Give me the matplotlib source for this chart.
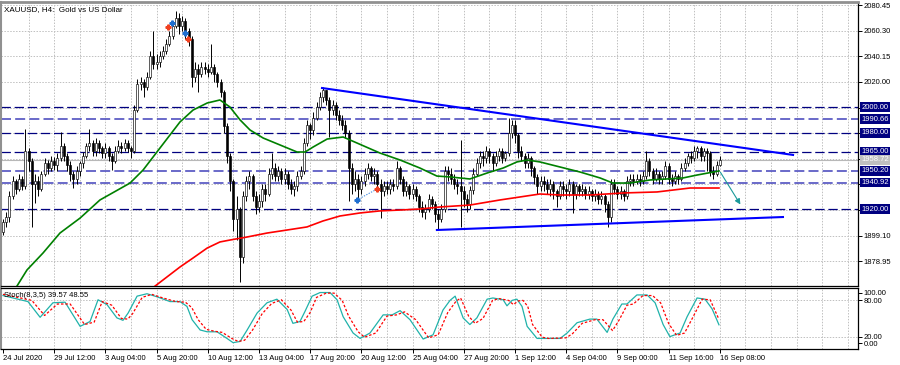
"""XAUUSD H4 chart: candles, moving averages, levels, triangle and stochastic."""

import matplotlib

matplotlib.use("Agg")
import matplotlib.pyplot as plt
from matplotlib import transforms

plt.rcParams["font.family"] = ["Liberation Sans", "DejaVu Sans"]

# ---- candles (H4 bars, 24 Jul 2020 .. 16 Sep 08:00) ----
FIRST_OPEN = 1902.0
CLOSES = [
    1910, 1914, 1930, 1942, 1936, 1944, 1938, 1966, 1958, 1940,
    1942, 1936, 1948, 1956, 1952, 1958, 1955, 1960, 1970, 1962,
    1955, 1948, 1944, 1950, 1956, 1962, 1970, 1972, 1966, 1972,
    1968, 1964, 1968, 1962, 1958, 1966, 1970, 1968, 1972, 1968,
    1966, 1998, 2018, 2020, 2016, 2024, 2040, 2034, 2036, 2040,
    2044, 2050, 2056, 2064, 2070, 2064, 2068, 2060, 2054, 2024,
    2030, 2026, 2032, 2030, 2028, 2032, 2026, 2020, 2012, 1985,
    1962, 1942, 1912, 1920, 1882, 1930, 1942, 1946, 1930, 1922,
    1926, 1936, 1932, 1948, 1952, 1946, 1950, 1944, 1948, 1940,
    1936, 1938, 1946, 1950, 1972, 1986, 1982, 1992, 2000, 2008,
    2014, 2006, 1998, 2002, 1994, 1990, 1986, 1980, 1952, 1940,
    1944, 1936, 1942, 1948, 1952, 1946, 1948, 1940, 1934, 1938,
    1936, 1940, 1938, 1952, 1944, 1934, 1938, 1932, 1936, 1930,
    1922, 1918, 1920, 1928, 1924, 1916, 1912, 1920, 1950, 1948,
    1944, 1940, 1938, 1934, 1928, 1924, 1935, 1948, 1956, 1962,
    1960, 1966, 1962, 1956, 1962, 1966, 1960, 1964, 1980, 1986,
    1978, 1966, 1962, 1956, 1960, 1952, 1945, 1938, 1942, 1940,
    1936, 1940, 1934, 1930, 1938, 1936, 1934, 1940, 1932, 1938,
    1934, 1936, 1932, 1934, 1930, 1932, 1928, 1930, 1924, 1914,
    1940, 1936, 1932, 1934, 1930, 1942, 1944, 1942, 1944, 1942,
    1946, 1958, 1950, 1944, 1948, 1944, 1946, 1954, 1944, 1942,
    1946, 1944, 1952, 1956, 1962, 1960, 1966, 1968, 1962, 1966,
    1964, 1950, 1948, 1955, 1958.72,
]
HIGHS = [
    1912, 1918, 1934, 1946, 1944, 1948, 1946, 1983, 1968, 1960,
    1948, 1946, 1950, 1960, 1959, 1962, 1961, 1964, 1981, 1972,
    1964, 1958, 1950, 1954, 1958, 1965, 1972, 1983, 1974, 1976,
    1974, 1970, 1972, 1970, 1964, 1970, 1974, 1973, 1975, 1974,
    1970, 2002, 2022, 2024, 2022, 2028, 2044, 2060, 2042, 2044,
    2048, 2054, 2060, 2068, 2076, 2074, 2072, 2070, 2062, 2056,
    2036, 2034, 2036, 2036, 2034, 2050, 2034, 2028, 2022, 2014,
    1988, 1964, 1944, 1930, 1922, 1934, 1946, 1950, 1948, 1934,
    1932, 1940, 1940, 1952, 1964, 1956, 1954, 1952, 1952, 1950,
    1944, 1942, 1950, 1954, 1976, 1990, 1988, 1996, 2004, 2012,
    2016, 2014, 2008, 2006, 2004, 1998, 1994, 1990, 1982, 1956,
    1950, 1948, 1946, 1952, 1956, 1954, 1952, 1950, 1944, 1942,
    1942, 1944, 1944, 1958, 1954, 1946, 1942, 1940, 1940, 1938,
    1932, 1926, 1924, 1932, 1930, 1926, 1920, 1924, 1954, 1954,
    1952, 1948, 1944, 1974, 1938, 1932, 1938, 1952, 1960, 1966,
    1966, 1970, 1968, 1964, 1966, 1968, 1968, 1966, 1992, 1990,
    1990, 1980, 1970, 1964, 1964, 1962, 1954, 1948, 1946, 1946,
    1944, 1944, 1942, 1936, 1942, 1942, 1940, 1944, 1942, 1940,
    1940, 1940, 1938, 1938, 1936, 1936, 1934, 1934, 1932, 1926,
    1944, 1944, 1938, 1938, 1936, 1946, 1948, 1948, 1948, 1948,
    1950, 1966, 1960, 1952, 1952, 1950, 1950, 1958, 1956, 1948,
    1950, 1948, 1956, 1960, 1964, 1966, 1970, 1970, 1970, 1968,
    1968, 1966, 1954, 1958, 1962,
]
LOWS = [
    1900, 1906, 1910, 1928, 1932, 1934, 1935, 1936, 1950, 1906,
    1925, 1930, 1934, 1946, 1948, 1950, 1951, 1950, 1958, 1958,
    1950, 1942, 1937, 1940, 1946, 1952, 1960, 1966, 1962, 1962,
    1964, 1960, 1960, 1958, 1951, 1956, 1964, 1964, 1966, 1965,
    1960, 1964, 1996, 2014, 2008, 2014, 2022, 2030, 2030, 2032,
    2038, 2042, 2048, 2054, 2062, 2058, 2060, 2054, 2048, 2016,
    2020, 2012, 2024, 2026, 2024, 2026, 2020, 2016, 2008, 1980,
    1956, 1934, 1903, 1896, 1863, 1878, 1926, 1936, 1926, 1916,
    1918, 1922, 1926, 1930, 1944, 1942, 1942, 1940, 1940, 1936,
    1932, 1930, 1934, 1944, 1948, 1970, 1975, 1978, 1990, 1998,
    2004, 2002, 1977, 1994, 1990, 1986, 1982, 1976, 1926, 1932,
    1934, 1928, 1932, 1938, 1944, 1942, 1940, 1936, 1913, 1930,
    1932, 1932, 1934, 1936, 1940, 1930, 1930, 1928, 1928, 1926,
    1918, 1914, 1912, 1918, 1920, 1910, 1904, 1910, 1918, 1942,
    1940, 1936, 1932, 1906, 1922, 1918, 1920, 1932, 1946, 1952,
    1954, 1956, 1956, 1950, 1954, 1958, 1956, 1958, 1962, 1976,
    1972, 1960, 1958, 1952, 1952, 1946, 1940, 1932, 1934, 1934,
    1932, 1930, 1928, 1922, 1928, 1930, 1928, 1930, 1917, 1928,
    1930, 1930, 1928, 1928, 1926, 1926, 1924, 1924, 1918, 1906,
    1910, 1932, 1928, 1928, 1926, 1928, 1938, 1938, 1940, 1938,
    1940, 1944, 1946, 1940, 1942, 1940, 1940, 1944, 1940, 1938,
    1940, 1940, 1942, 1950, 1954, 1956, 1958, 1960, 1958, 1958,
    1950, 1946, 1944, 1946, 1954,
]

# ---- moving averages (bar index, price) ----
MA_FAST_IDX = [2.0, 7.5, 12.5, 17.8, 24.1, 30.3, 39.7, 43.8, 48.1, 55.3,
               59.4, 63.8, 67.8, 70.9, 74.1, 77.2, 81.3, 86.6, 91.9, 94.4,
               96.9, 101.3, 106.3, 110.6, 117.8, 124.1, 130.3, 135.6, 139.7,
               145.9, 151.3, 156.3, 160.6, 163.8, 167.8, 174.1, 180.3, 186.6,
               190.6, 195.9, 202.2, 212.5, 216.9, 223.75]
MA_FAST = [1850.0, 1872.2, 1885.5, 1901.2, 1913.0, 1927.2, 1940.5, 1950.8,
           1964.9, 1988.5, 1997.9, 2003.4, 2005.8, 2000.3, 1990.1, 1982.2,
           1975.9, 1970.4, 1964.9, 1964.9, 1968.8, 1975.1, 1976.7, 1972.0,
           1964.1, 1958.6, 1952.3, 1946.0, 1945.3, 1943.7, 1948.4, 1952.3,
           1957.1, 1958.6, 1957.1, 1953.1, 1949.2, 1944.5, 1940.5, 1940.5,
           1942.9, 1944.5, 1946.8, 1950.0]
MA_SLOW_IDX = [45.9, 55.3, 59.4, 63.8, 67.8, 70.9, 76.3, 82.5, 88.8, 95.0,
               100.0, 105.3, 111.6, 117.8, 124.1, 130.3, 136.6, 145.9, 155.3,
               167.8, 174.1, 183.4, 193.8, 204.4, 214.7, 223.75]
MA_SLOW = [1856.4, 1874.5, 1881.6, 1889.4, 1894.2, 1895.7, 1898.1, 1901.2,
           1903.6, 1906.0, 1910.7, 1914.6, 1917.0, 1918.6, 1919.3, 1920.1,
           1921.7, 1923.2, 1927.2, 1931.9, 1931.1, 1931.1, 1932.7, 1933.5,
           1936.6, 1936.6]

# ---- Stoch(8,3,5) ----
STOCH_K_IDX = [0, 7.8, 11.6, 15.6, 19.4, 24.1, 27.2, 29.7, 32.5, 35.6, 37.5,
               39.1, 41.9, 45.0, 48.1, 52.2, 55.3, 57.5, 59.1, 61.6, 63.8,
               66.9, 70.0, 71.9, 74.1, 76.3, 79.4, 82.5, 85.6, 88.8, 90.6,
               92.8, 94.4, 96.6, 99.1, 102.2, 104.4, 106.3, 109.4, 111.6,
               114.7, 118.8, 121.6, 124.1, 127.2, 131.3, 134.4, 137.5, 139.7,
               141.3, 143.8, 145.9, 148.1, 151.3, 153.1, 156.3, 157.5, 159.1,
               160.6, 162.2, 163.8, 166.9, 168.8, 174.1, 176.3, 179.4, 183.4,
               185.6, 188.8, 190.6, 193.4, 195.0, 198.1, 201.3, 203.8, 206.3,
               208.4, 211.6, 213.8, 216.9, 219.4, 221.6, 223.75]
STOCH_K = [88, 78, 52, 76, 77, 37, 45, 81, 73, 51, 47, 59, 87, 91, 86, 78,
           78, 70, 48, 31, 28, 28, 17, 10, 12, 31, 59, 76, 82, 65, 42, 45,
           62, 87, 93, 93, 81, 53, 26, 17, 26, 56, 56, 63, 48, 16, 23, 64,
           80, 87, 51, 40, 51, 82, 84, 81, 71, 80, 82, 70, 37, 17, 17, 17,
           26, 43, 49, 49, 27, 49, 74, 74, 89, 89, 76, 40, 20, 26, 53, 84,
           82, 66, 39.57]
STOCH_D_IDX = [0, 9, 13, 17, 21, 25.5, 28.5, 31, 34, 37, 39, 40.5, 43.5,
               46.5, 50, 54, 57, 59, 61, 63.5, 66, 68.5, 71.5, 73.5, 75.5,
               78, 81, 84, 87, 90, 92, 94, 96, 98, 101, 103.5, 106, 108, 111,
               113, 116.5, 120, 123, 125.5, 129, 133, 136, 139, 141.5, 143,
               145.5, 147.5, 150, 153, 155, 158, 159.5, 161, 162.5, 164,
               165.5, 168.5, 170.5, 176, 178, 181, 185, 187.5, 190.5, 192.5,
               195, 197, 200, 203, 205.5, 208, 210.5, 213, 215.5, 218.5, 221,
               223.75]
STOCH_D = [90, 80, 55, 74, 74, 40, 44, 78, 72, 50, 49, 58, 85, 90, 84, 78,
           77, 68, 48, 32, 29, 27, 17, 12, 14, 31, 58, 75, 81, 64, 44, 45,
           60, 85, 92, 92, 80, 54, 28, 19, 26, 54, 56, 61, 48, 18, 23, 60,
           78, 84, 54, 42, 50, 80, 83, 80, 73, 79, 80, 70, 40, 19, 17, 18,
           25, 42, 48, 48, 30, 47, 72, 74, 88, 88, 76, 42, 22, 26, 51, 82,
           81, 48.55]

# ---- drawn objects ----
LEVELS_DARK = [2000.00, 1980.00, 1965.00, 1920.00]
LEVELS_LIGHT = [1990.66, 1950.20, 1940.92]
BID = 1958.72
UPPER_TREND_IDX = [99.7, 246.9]
UPPER_TREND = [2015.2, 1962.6]
LOWER_TREND_IDX = [135.6, 243.75]
LOWER_TREND = [1903.6, 1913.8]
ARROW_IDX = [223.75, 230.9]
ARROW = [1950.8, 1921.8]
BUY_MARKS_IDX = [52.8, 56.9, 110.6]
BUY_MARKS = [2066.3, 2058.4, 1927.2]
SELL_MARKS_IDX = [51.6, 57.8, 116.9]
SELL_MARKS = [2063.2, 2053.7, 1935.8]

PRICE_GRID = [2080.45, 2060.30, 2040.15, 2020.00, 1999.85, 1979.70,
              1959.55, 1939.40, 1919.25, 1899.10, 1878.95]
PRICE_SHOWN = ["2080.45", "2060.30", "2040.15", "2020.00", "", "", "", "",
               "", "1899.10", "1878.95"]
DATE_LABELS = ["24 Jul 2020", "29 Jul 12:00", "3 Aug 04:00", "5 Aug 20:00",
               "10 Aug 12:00", "13 Aug 04:00", "17 Aug 20:00", "20 Aug 12:00",
               "25 Aug 04:00", "27 Aug 20:00", "1 Sep 12:00", "4 Sep 04:00",
               "9 Sep 00:00", "11 Sep 16:00", "16 Sep 08:00"]

NAVY = "#000080"
LIGHT_NAVY = "#5050c0"
GRID = "#c0c0c0"
FS = 5.5

W, H = 900, 365
X_LEFT, X_RIGHT = -0.625, 267.2


def px_axes(left, top, right, bottom):
    """Axes rectangle from pixel edges."""
    return [left / W, 1 - bottom / H, (right - left) / W, (bottom - top) / H]


def level_box(ax, y, text, face):
    """Price tag on the right edge, like the terminal draws it."""
    trans = transforms.blended_transform_factory(ax.transAxes, ax.transData)
    ax.text(1.004, y, text, transform=trans, ha="left", va="center",
            fontsize=FS, color="white", clip_on=False, zorder=10,
            bbox=dict(boxstyle="square,pad=0.18", fc=face, ec="none"))


def draw_grid(ax, hlevels):
    for x in range(8, 268, 8):
        ax.axvline(x, color=GRID, lw=0.7, dashes=(1.5, 1.5), zorder=0)
    for y in hlevels:
        ax.axhline(y, color=GRID, lw=0.7, dashes=(1.5, 1.5), zorder=0)


fig = plt.figure(figsize=(W / 100, H / 100), dpi=100)
ax = fig.add_axes(px_axes(1, 2, 858, 286))
sub = fig.add_axes(px_axes(1, 288, 858, 349))

# main window
draw_grid(ax, PRICE_GRID)
ax.axhline(BID, color="#b8b8b8", lw=0.8, zorder=1)
for lv in LEVELS_DARK:
    ax.axhline(lv, color=NAVY, lw=0.9, dashes=(7.5, 3.0), zorder=2)
for lv in LEVELS_LIGHT:
    ax.axhline(lv, color=LIGHT_NAVY, lw=1.2, dashes=(6.0, 2.5), zorder=2)

opens = [FIRST_OPEN] + CLOSES[:-1]
idx = list(range(len(CLOSES)))
ax.vlines(idx, LOWS, HIGHS, color="black", lw=0.7, zorder=3)
ax.bar(idx, [max(abs(c - o), 0.4) for o, c in zip(opens, CLOSES)],
       bottom=[min(o, c) for o, c in zip(opens, CLOSES)], width=0.62,
       color=["white" if c >= o else "black" for o, c in zip(opens, CLOSES)],
       edgecolor="black", linewidth=0.45, zorder=4)

ax.plot(MA_FAST_IDX, MA_FAST, color="#008000", lw=1.2, zorder=5)
ax.plot(MA_SLOW_IDX, MA_SLOW, color="#ff0000", lw=1.2, zorder=5)
ax.plot(UPPER_TREND_IDX, UPPER_TREND, color="#0000ff", lw=1.5, zorder=6)
ax.plot(LOWER_TREND_IDX, LOWER_TREND, color="#0000ff", lw=1.5, zorder=6)
ax.annotate("", xy=(ARROW_IDX[1], ARROW[1]), xytext=(ARROW_IDX[0], ARROW[0]),
            arrowprops=dict(arrowstyle="-|>", color="#1a9a9a", lw=0.8,
                            mutation_scale=8), zorder=7)
ax.plot(BUY_MARKS_IDX[2:] + SELL_MARKS_IDX[2:], BUY_MARKS[2:] + SELL_MARKS[2:],
        color="#4a90e0", lw=0.8, dashes=(1.2, 1.2), zorder=6)
ax.plot(BUY_MARKS_IDX, BUY_MARKS, "P", color="#1f6fd0", ms=3.5, zorder=8)
ax.plot(SELL_MARKS_IDX, SELL_MARKS, "P", color="#f04020", ms=3.5, zorder=8)

ax.set_xlim(X_LEFT, X_RIGHT)
ax.set_ylim(1859.58, 2082.81)
ax.set_xticks([])
ax.yaxis.tick_right()
ax.set_yticks(PRICE_GRID)
ax.set_yticklabels(PRICE_SHOWN, fontsize=FS)
ax.tick_params(axis="y", length=3, width=0.7, pad=1)
ax.text(0.004, 0.985, "XAUUSD, H4:  Gold vs US Dollar", transform=ax.transAxes,
        ha="left", va="top", fontsize=FS + 0.3)

for lv in LEVELS_DARK + LEVELS_LIGHT:
    level_box(ax, lv, f"{lv:.2f}", NAVY)
level_box(ax, BID, f"{BID:.2f}", "#c0c0c0")

# stochastic window
draw_grid(sub, [80, 20])
sub.plot(STOCH_K_IDX, STOCH_K, color="#20b2aa", lw=0.9, zorder=3)
sub.plot(STOCH_D_IDX, STOCH_D, color="#ff0000", lw=0.9, dashes=(2, 1.5),
         zorder=3)
sub.set_xlim(X_LEFT, X_RIGHT)
sub.set_ylim(-0.5, 100.5)
sub.yaxis.tick_right()
sub.set_yticks([93, 80, 20, 9])
sub.set_yticklabels(["100.00", "80.00", "20.00", "0.00"], fontsize=FS)
sub.tick_params(axis="y", length=3, width=0.7, pad=1)
sub.set_xticks(range(0, 225, 16))
sub.set_xticklabels(DATE_LABELS, fontsize=FS, ha="left")
sub.tick_params(axis="x", length=3, width=0.7, pad=1.5)
sub.text(0.004, 0.93, "Stoch(8,3,5) 39.57 48.55", transform=sub.transAxes,
         ha="left", va="top", fontsize=FS)

for a in (ax, sub):
    a.spines["left"].set_color("#909090")
    a.spines["left"].set_linewidth(1.5)
    a.spines["right"].set_linewidth(0.9)
    a.spines["bottom"].set_linewidth(0.9)
ax.spines["top"].set_color("#909090")
ax.spines["top"].set_linewidth(2)
sub.spines["top"].set_linewidth(0.9)

fig.savefig("out.png", dpi=100)
